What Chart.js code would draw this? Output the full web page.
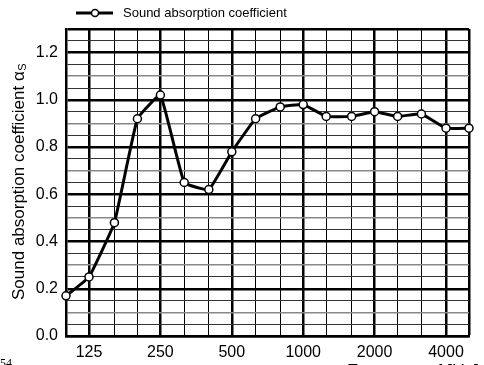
<!DOCTYPE html>
<html>
<head>
<meta charset="utf-8">
<script src="https://cdn.jsdelivr.net/npm/chart.js@4"></script>
<style>
  html, body { margin: 0; padding: 0; background: #fff; }
  #wrap { width: 484px; height: 365px; position: relative; }
</style>
</head>
<body>
<div id="wrap"><canvas id="absChart"></canvas></div>
<script>
// 1/3-octave band centre frequencies (Hz)
const freqs = [100, 125, 160, 200, 250, 315, 400, 500, 630, 800, 1000, 1250, 1600, 2000, 2500, 3150, 4000, 5000];
// sound absorption coefficient per band
const alpha = [0.17, 0.25, 0.48, 0.92, 1.02, 0.65, 0.62, 0.78, 0.92, 0.97, 0.98, 0.93, 0.93, 0.95, 0.93, 0.94, 0.88, 0.88];
// labelled x ticks (octave bands)
const octaveLabels = [125, 250, 500, 1000, 2000, 4000];
// labelled y ticks
const yLabels = [0.0, 0.2, 0.4, 0.6, 0.8, 1.0, 1.2];

const FONT = '"Liberation Sans", Arial, sans-serif';
const near = (list, v) => list.some(l => Math.abs(l - v) < 1e-6);

const textPlugin = {
    id: 'texts',
    afterDraw(chart) {
        const ctx = chart.ctx;
        ctx.save();
        ctx.fillStyle = '#000';

        // legend
        ctx.strokeStyle = '#000';
        ctx.lineWidth = 3;
        ctx.beginPath();
        ctx.moveTo(76, 13);
        ctx.lineTo(113, 13);
        ctx.stroke();
        ctx.beginPath();
        ctx.arc(95, 13, 3.5, 0, Math.PI * 2);
        ctx.fillStyle = '#fff';
        ctx.fill();
        ctx.lineWidth = 1.5;
        ctx.stroke();
        ctx.fillStyle = '#000';
        ctx.font = '13px ' + FONT;
        ctx.textBaseline = 'middle';
        ctx.textAlign = 'left';
        ctx.fillText('Sound absorption coefficient', 123, 13);

        // y axis title with subscript
        ctx.save();
        ctx.translate(19, 300);
        ctx.rotate(-Math.PI / 2);
        ctx.font = '17px ' + FONT;
        ctx.textBaseline = 'middle';
        const main = 'Sound absorption coefficient \u03b1';
        ctx.fillText(main, 0, 0);
        const w = ctx.measureText(main).width;
        ctx.font = '11px ' + FONT;
        ctx.fillText('S', w + 0.5, 4);
        ctx.restore();

        // clipped texts at the bottom edge
        ctx.font = '12px "Liberation Serif", serif';
        ctx.textBaseline = 'alphabetic';
        ctx.fillText('54', 0, 367);
        ctx.font = '18px ' + FONT;
        ctx.fillText('Frequency f [Hz]', 347, 377);

        ctx.restore();
    }
};

new Chart(document.getElementById('absChart'), {
    type: 'line',
    data: {
        datasets: [{
            data: freqs.map((f, i) => ({ x: f, y: alpha[i] })),
            borderColor: '#000',
            borderWidth: 3,
            tension: 0.1,
            pointRadius: 4,
            pointBackgroundColor: '#fff',
            pointBorderColor: '#000',
            pointBorderWidth: 1.5,
            clip: false
        }]
    },
    options: {
        responsive: true,
        maintainAspectRatio: false,
        animation: false,
        layout: { padding: { top: 29, right: 15, left: 0, bottom: 0 } },
        plugins: {
            legend: { display: false },
            tooltip: { enabled: false }
        },
        scales: {
            x: {
                type: 'logarithmic',
                min: 100,
                max: 5000,
                afterBuildTicks: s => { s.ticks = freqs.map(v => ({ value: v })); },
                afterFit: s => { s.height = 29; },
                border: { color: '#000', width: 2.5 },
                grid: {
                    drawTicks: false,
                    color: '#000',
                    lineWidth: c => (near(octaveLabels, c.tick.value) || c.tick.value === 5000) ? 2.5 : 1
                },
                ticks: {
                    autoSkip: false,
                    maxRotation: 0,
                    padding: 7,
                    color: '#000',
                    font: { family: FONT, size: 16 },
                    callback: v => near(octaveLabels, v) ? String(v) : ''
                }
            },
            y: {
                min: 0,
                max: 1.3,
                afterBuildTicks: s => {
                    const t = [];
                    for (let i = 0; i <= 26; i++) t.push({ value: i * 0.05 });
                    s.ticks = t;
                },
                afterFit: s => { s.width = 66; },
                border: { color: '#000', width: 2.5 },
                grid: {
                    drawTicks: false,
                    color: c => {
                        const v = c.tick.value;
                        if (near(yLabels, v) || Math.abs(v - 1.3) < 1e-6) return '#000';
                        return Math.abs(Math.round(v * 10) - v * 10) < 1e-6 ? '#888' : '#333';
                    },
                    lineWidth: c => {
                        const v = c.tick.value;
                        if (near(yLabels, v) || Math.abs(v - 1.3) < 1e-6) return 2.5;
                        return Math.abs(Math.round(v * 10) - v * 10) < 1e-6 ? 1.5 : 1;
                    }
                },
                ticks: {
                    autoSkip: false,
                    padding: 8,
                    color: '#000',
                    font: { family: FONT, size: 16 },
                    callback: v => near(yLabels, v) ? v.toFixed(1) : ''
                }
            }
        }
    },
    plugins: [textPlugin]
});
</script>
</body>
</html>
